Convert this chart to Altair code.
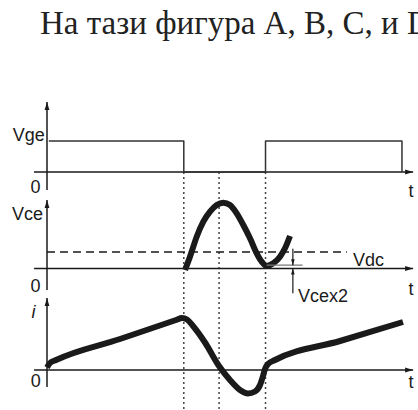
import altair as alt
import pandas as pd

W, H = 418, 410

# ---- time instants (arbitrary time units) ----
T_OFF = 3.8      # gate turned off
T_ZERO = 4.78    # collector current crosses zero
T_ON = 6.07      # gate turned on again
T_END = 9.86     # end of second gate pulse
AX_LEFT, AX_RIGHT = -0.36, 10.17

# ---- gate-emitter voltage (normalised, 1 = on level) ----
vge_t = [0.05, T_OFF, T_OFF, T_ON, T_ON, T_END, T_END]
vge_v = [1, 1, 0, 0, 1, 1, 0]

# ---- collector-emitter voltage (normalised to Vdc) ----
vce_t = [3.833, 3.972, 4.158, 4.342, 4.528, 4.714, 4.897, 5.083, 5.269, 5.453,
         5.639, 5.825, 5.964, 6.103, 6.286, 6.472, 6.611, 6.75]
vce_v = [-0.09, 0.715, 1.927, 2.836, 3.442, 3.848, 3.988, 3.848, 3.345, 2.636,
         1.830, 0.921, 0.412, 0.152, 0.315, 0.715, 1.224, 1.97]
VDC = 1.0
VDC_END = 8.33
VCEX2 = 0.2

# ---- collector current (arbitrary units) ----
i_t = [0.0, 0.083, 0.25, 2.028, 3.583, 3.75, 3.889, 4.056, 4.389, 4.778, 5.083,
       5.361, 5.583, 5.778, 5.917, 6.0, 6.056, 6.139, 6.333, 8.139, 9.889]
i_v = [0.25, 0.70, 1.00, 3.10, 5.00, 5.20, 5.05, 4.40, 2.75, 0.40, -1.00,
       -2.00, -2.35, -2.15, -1.50, -0.60, 0.10, 0.60, 1.00, 2.90, 4.80]

TITLE = "На тази фигура A, B, C, и D"

INK = "#1a1a1a"
LABEL_FONT = "Liberation Sans"

xs = alt.Scale(domain=[0, 10], range=[47, 407], nice=False, zero=False)
s_vge = alt.Scale(domain=[0, 1], range=[172, 141], nice=False, zero=False)
s_vce = alt.Scale(domain=[0, 1], range=[268.5, 252], nice=False, zero=False)
s_i = alt.Scale(domain=[0, 5], range=[370, 320], nice=False, zero=False)


def X(f="t"):
    return alt.X(f"{f}:Q", scale=xs, axis=None)


def Y(scale, f="v"):
    return alt.Y(f"{f}:Q", scale=scale, axis=None)


def curve(ts, vs, scale, width, color=INK, interp="linear"):
    df = pd.DataFrame({"t": ts, "v": vs, "k": range(len(ts))})
    return alt.Chart(df).mark_line(
        strokeWidth=width, color=color, interpolate=interp, strokeCap="butt",
        strokeJoin="round"
    ).encode(x=X(), y=Y(scale), order="k:Q")


def hline(t0, t1, v, scale, width=1.5, color=INK, dash=None):
    df = pd.DataFrame({"t": [t0], "t2": [t1], "v": [v]})
    kw = dict(strokeWidth=width, color=color)
    if dash:
        kw["strokeDash"] = dash
    return alt.Chart(df).mark_rule(**kw).encode(
        x=X(), x2="t2:Q", y=Y(scale))


def vline(t, v0, v1, scale, width=1.5, color=INK):
    df = pd.DataFrame({"t": [t], "v": [v0], "v2": [v1]})
    return alt.Chart(df).mark_rule(strokeWidth=width, color=color).encode(
        x=X(), y=Y(scale), y2="v2:Q")


UP = "M0,-1L0.6,1L-0.6,1Z"
DOWN = "M0,1L0.6,-1L-0.6,-1Z"
RIGHT = "M1,0L-1,-0.6L-1,0.6Z"


def head(t, v, scale, shape, size=64, dx=0, dy=0):
    df = pd.DataFrame({"t": [t], "v": [v]})
    return alt.Chart(df).mark_point(
        shape=shape, size=size, filled=True, color=INK, opacity=1,
        xOffset=dx, yOffset=dy, strokeWidth=0
    ).encode(x=X(), y=Y(scale))


def label(text, t, v, scale, align="left", italic=False, size=18):
    df = pd.DataFrame({"t": [t], "v": [v], "txt": [text]})
    return alt.Chart(df).mark_text(
        align=align, baseline="alphabetic", fontSize=size, font=LABEL_FONT,
        fontStyle="italic" if italic else "normal", color=INK
    ).encode(x=X(), y=Y(scale), text="txt:N")


def axes(scale, v_low, v_top):
    """Arrowed y axis at t=0 and arrowed time axis at value 0."""
    return [
        vline(0, v_low, v_top, scale),
        head(0, v_top, scale, UP, dy=4),
        hline(AX_LEFT, AX_RIGHT, 0, scale),
        head(AX_RIGHT, 0, scale, RIGHT, dx=-4),
    ]


layers = []

# dotted time markers running down through all three traces
marks_df = pd.DataFrame({"t": [T_OFF, T_ZERO, T_ON], "v": [0, 0, 0]})
layers.append(alt.Chart(marks_df).mark_rule(
    strokeDash=[2, 3], strokeWidth=1.5, color="#444"
).encode(x=X(), y=Y(s_vge), y2=alt.value(H)))

# --- Vge trace ---
layers += axes(s_vge, -0.58, 2.26)
layers.append(curve(vge_t, vge_v, s_vge, 1.5, color="#333"))
layers.append(label("Vge", -0.06, 1.0, s_vge, align="right"))
layers.append(label("0", -0.32, -0.68, s_vge, align="center"))
layers.append(label("t", 10.11, -0.81, s_vge, align="center"))

# --- Vce trace ---
layers += axes(s_vce, -1.3, 4.15)
layers.append(hline(0, VDC_END, VDC, s_vce, dash=[8, 5]))
layers.append(curve(vce_t, vce_v, s_vce, 6, interp="monotone"))
layers.append(hline(6.1, 7.1, VCEX2, s_vce, width=1.2, color="#777"))
layers.append(vline(6.83, 1.2, VCEX2, s_vce, width=1.2))
layers.append(head(6.83, VCEX2, s_vce, DOWN, size=36, dy=-3))
layers.append(vline(6.83, -1.5, 0, s_vce, width=1.2))
layers.append(head(6.83, 0, s_vce, UP, size=36, dy=3))
layers.append(label("Vce", -0.11, 2.94, s_vce, align="right"))
layers.append(label("0", -0.32, -1.42, s_vce, align="center"))
layers.append(label("t", 10.11, -1.61, s_vce, align="center"))
layers.append(label("Vdc", 8.5, 0.15, s_vce))
layers.append(label("Vcex2", 6.97, -2.03, s_vce))

# --- current trace ---
layers += axes(s_i, -1.7, 7.2)
layers.append(curve(i_t, i_v, s_i, 6, interp="monotone"))
layers.append(label("i", -0.375, 5.2, s_i, align="center", italic=True))
layers.append(label("0", -0.31, -1.7, s_i, align="center"))
layers.append(label("t", 10.11, -1.8, s_i, align="center"))

# heading line of text above the diagram
title = alt.Chart(pd.DataFrame({"txt": [TITLE]})).mark_text(
    align="left", baseline="alphabetic", fontSize=33, font="Liberation Serif",
    color="#222"
).encode(x=alt.value(40), y=alt.value(34), text="txt:N")
layers.append(title)

chart = alt.layer(*layers).resolve_scale(y="independent").properties(
    width=W, height=H, autosize=alt.AutoSizeParams(type="none"), padding=0
).configure_view(stroke=None)

chart.save("out.html", embed_options={"renderer": "svg", "actions": False})
